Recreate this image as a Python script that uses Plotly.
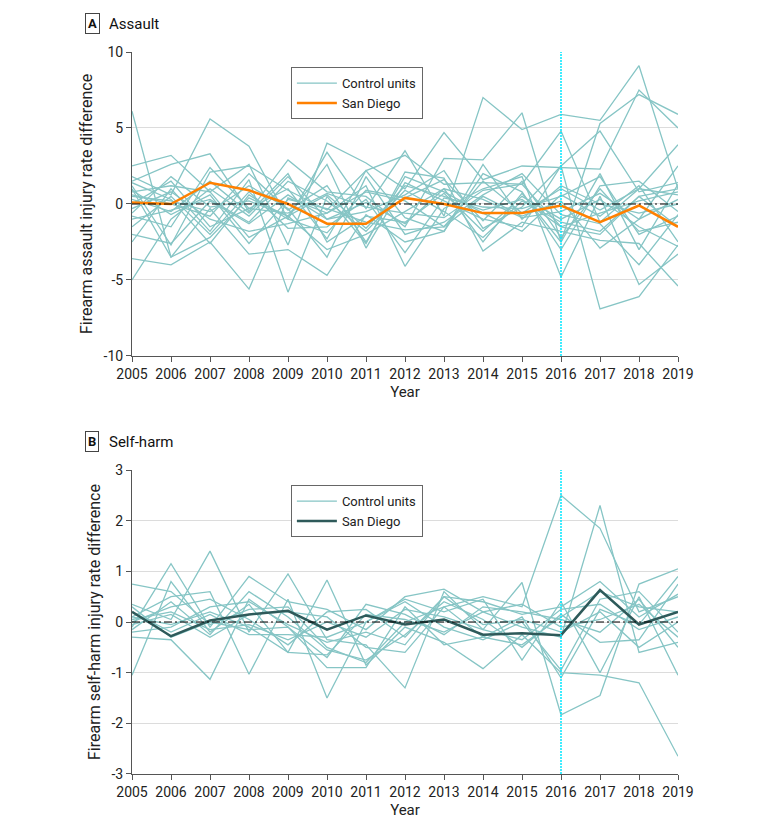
import plotly.graph_objects as go

years = list(range(2005, 2020))

# Panel A: assault
sd_assault = [0.1, 0.0, 1.4, 0.9, 0.0, -1.3, -1.3, 0.4, 0.0, -0.6, -0.6, -0.1, -1.2, -0.1, -1.5]
ctrl_assault = [
    [6.1, -3.5, -2.2, 0.4, -0.8, 0.6, -1.6, 1.2, 0.5, -0.4, 0.3, -1.5, -2.0, 0.5, 1.0],
    [2.5, 3.2, 0.8, 2.6, -2.7, 4.0, 2.7, 1.0, 4.7, 1.6, 2.5, 2.4, 2.3, 7.5, 5.0],
    [1.8, 0.6, 5.6, 3.8, -1.0, 3.4, -0.3, 3.5, -0.8, 7.0, 4.9, 5.9, 5.5, 9.1, 1.0],
    [1.5, 2.6, 3.3, -0.5, 2.9, 0.8, 0.5, -1.5, 3.0, 2.9, 6.0, -2.5, 5.3, 7.2, 5.9],
    [1.2, -2.7, 2.1, 2.5, 0.9, -0.4, 2.2, 3.2, 1.3, 1.4, 1.3, 4.8, -1.2, 1.0, 3.9],
    [-5.0, -1.0, 1.0, -0.8, 1.8, -1.0, -0.5, 0.6, 2.2, -1.6, -0.2, 2.5, -6.9, -6.1, -2.7],
    [-3.6, -4.0, -2.5, -5.6, 0.4, -0.6, 1.2, -4.1, -0.3, 1.0, 1.8, -4.8, 0.5, -5.3, -3.3],
    [-2.5, 1.0, -1.8, 1.6, -5.8, 0.5, -2.6, 2.1, 1.7, -3.1, -1.2, -1.8, -2.4, -2.6, -5.4],
    [1.0, -3.5, -0.3, -3.3, -3.0, -4.7, -0.7, -2.5, -1.8, 2.0, 0.8, -3.0, 1.2, 1.5, -0.5],
    [0.8, 1.2, 0.8, -2.2, -0.8, 2.6, -2.9, 1.4, 0.2, -1.0, -1.5, 2.5, 4.8, 0.8, 1.4],
    [0.5, 0.2, -0.5, 1.2, -0.3, -3.5, 1.8, -2.0, -1.2, 0.6, 2.0, -0.7, -1.3, -4.0, -0.7],
    [0.3, -0.5, 1.5, -0.6, 2.0, -2.5, -0.8, -1.2, 0.7, -1.8, 0.5, -1.0, 0.3, -1.5, -2.8],
    [-0.3, 0.8, -1.0, -1.8, -1.3, -0.6, 0.8, 0.2, -1.5, 1.5, -0.6, 1.0, -0.4, 1.0, 0.6],
    [-0.6, 1.8, -0.2, 0.2, -0.8, -3.0, -2.0, -0.5, 1.0, 0.3, -0.9, -0.5, 0.7, -1.0, 0.3],
    [-1.0, -0.4, 0.3, -1.2, 1.5, 0.2, -1.8, 0.9, -0.5, -2.2, 0.2, -1.2, -1.8, 0.5, -1.5],
    [-1.5, 0.5, -2.0, 0.8, -1.6, -1.5, 0.3, -3.2, 0.4, -0.2, -0.3, 0.5, 1.8, -2.0, -0.8],
    [0.0, 1.5, -1.5, -0.3, -0.6, 0.7, -0.2, -0.6, -0.9, 0.9, 1.3, -1.5, -0.6, 0.2, 0.8],
    [0.9, -0.7, 0.6, -2.6, 0.3, -0.3, -1.2, -1.7, -1.5, 0.5, -0.8, 0.2, -2.9, -1.0, 2.5],
    [1.4, 0.3, -2.6, 0.6, -1.0, -1.9, 0.9, 0.4, 1.6, -1.1, 1.5, -2.2, 1.0, -1.8, -1.2],
    [-0.8, -1.5, 2.4, -0.3, 1.0, -2.3, 2.2, -0.9, -1.8, 2.6, -1.0, 1.2, 0.0, -0.6, 0.0],
    [0.6, 0.0, -0.8, 2.0, -0.4, 1.2, -2.5, 1.8, 0.8, -0.6, -1.8, 0.6, -0.8, 1.2, -2.5],
    [-2.0, -2.6, 0.2, -1.3, 0.6, -1.0, 0.1, -1.3, 1.0, -2.5, 0.7, -2.5, 2.0, -3.0, 1.3],
]

# Panel B: self-harm
sd_selfharm = [0.2, -0.28, 0.03, 0.15, 0.22, -0.15, 0.13, -0.05, 0.05, -0.25, -0.22, -0.26, 0.63, -0.05, 0.2]
ctrl_selfharm = [
    [0.75, 0.6, -0.05, 0.25, 0.3, -0.5, -0.8, 0.0, 0.3, 0.5, 0.3, 2.5, 1.85, 0.2, 0.5],
    [-0.1, 1.15, -0.1, 0.9, 0.4, 0.25, -0.15, 0.5, 0.65, 0.2, -0.1, -0.3, 2.3, -0.6, -0.4],
    [0.35, 0.05, 1.4, -0.2, 0.95, -0.35, -0.45, -1.3, 0.6, -0.15, 0.78, -1.83, -1.45, 0.75, 1.05],
    [-1.05, 0.8, -0.2, 0.35, -0.6, 0.83, -0.85, -0.1, -0.4, -0.92, -0.25, -1.0, -1.05, -1.2, -2.65],
    [0.1, 0.5, 0.6, -1.03, 0.45, -1.5, 0.0, 0.45, 0.2, 0.45, -0.75, 0.4, -1.0, 0.5, -1.05],
    [-0.3, -0.35, -1.13, 0.45, -0.1, -0.9, -0.9, 0.3, -0.45, -0.3, 0.1, -1.1, 0.25, -0.05, 0.9],
    [0.0, 0.3, 0.45, 0.05, -0.45, 0.2, 0.25, -0.3, 0.5, 0.4, 0.15, 0.3, 0.8, 0.1, 0.55],
    [0.2, -0.2, 0.15, -0.25, -0.25, -0.3, 0.0, 0.4, -0.1, -0.35, 0.0, -0.95, 0.45, 0.6, -0.2],
    [-0.15, 0.4, -0.25, 0.6, 0.1, -0.55, -0.75, -0.25, 0.4, 0.05, -0.5, 0.15, -0.4, -0.35, 0.75],
    [0.1, -0.05, 0.2, -0.1, -0.6, -0.65, 0.15, 0.05, -0.2, 0.2, 0.35, -0.1, 0.05, 0.35, -0.3],
    [-0.05, 0.15, -0.3, 0.15, 0.2, 0.1, -0.5, -0.6, 0.3, -0.3, -0.45, 0.1, 0.6, 0.3, 0.2],
    [0.3, -0.3, 0.0, -0.15, -0.1, -0.7, 0.35, 0.15, -0.25, 0.3, 0.2, 0.05, -0.2, 0.45, -0.5],
    [0.05, 0.2, -0.15, -0.05, -0.35, 0.0, -0.3, 0.25, 0.1, -0.15, -0.35, 0.25, 0.35, -0.15, 0.1],
    [-0.2, -0.1, 0.3, 0.4, -0.05, -0.4, -0.2, -0.45, 0.5, -0.05, 0.05, -0.2, 0.2, -0.5, 0.0],
]

yticks_a = [-10, -5, 0, 5, 10]
yticks_b = [-3, -2, -1, 0, 1, 2, 3]
intervention_year = 2016

CTRL_COLOR = "#86c5c5"
SD_A_COLOR = "#ff8000"
SD_B_COLOR = "#2e5a5a"
FONT = "Roboto, Liberation Sans, sans-serif"

ML, MR, MT, MB = 124, 110, 44, 63
W, H = 780, 829
PW, PH = W - ML - MR, H - MT - MB

fig = go.Figure()

for i, s in enumerate(ctrl_assault):
    fig.add_trace(go.Scatter(x=years, y=s, mode="lines", xaxis="x", yaxis="y",
                             line=dict(color=CTRL_COLOR, width=1.3),
                             name="Control units", legend="legend",
                             showlegend=(i == 0)))
fig.add_trace(go.Scatter(x=years, y=sd_assault, mode="lines", xaxis="x", yaxis="y",
                         line=dict(color=SD_A_COLOR, width=2.5),
                         name="San Diego", legend="legend"))

for i, s in enumerate(ctrl_selfharm):
    fig.add_trace(go.Scatter(x=years, y=s, mode="lines", xaxis="x2", yaxis="y2",
                             line=dict(color=CTRL_COLOR, width=1.3),
                             name="Control units", legend="legend2",
                             showlegend=(i == 0)))
fig.add_trace(go.Scatter(x=years, y=sd_selfharm, mode="lines", xaxis="x2", yaxis="y2",
                         line=dict(color=SD_B_COLOR, width=2.5),
                         name="San Diego", legend="legend2"))

axis_common = dict(showline=True, linecolor="#555555", linewidth=1, ticks="outside",
                   ticklen=5, tickcolor="#555555", tickfont=dict(size=14, color="#222"),
                   zeroline=False)

fig.update_layout(
    width=W, height=H,
    margin=dict(l=ML, r=MR, t=MT, b=MB),
    plot_bgcolor="white", paper_bgcolor="white",
    font=dict(family=FONT, size=13, color="#222"),
    xaxis=dict(domain=[0, 1], anchor="y", range=[2005, 2019], tickvals=years,
               showgrid=False, title=dict(text="Year", standoff=5, font=dict(size=15)),
               **axis_common),
    yaxis=dict(domain=[0.579, 1], anchor="x", range=[-10, 10], tickvals=yticks_a,
               ticktext=[str(v) for v in yticks_a], showgrid=True, gridcolor="#dcdcdc",
               title=dict(text="Firearm assault injury rate difference", standoff=6,
                          font=dict(size=16)),
               **axis_common),
    xaxis2=dict(domain=[0, 1], anchor="y2", range=[2005, 2019], tickvals=years,
                showgrid=False, title=dict(text="Year", standoff=5, font=dict(size=15)),
                **axis_common),
    yaxis2=dict(domain=[0, 0.421], anchor="x2", range=[-3, 3], tickvals=yticks_b,
                ticktext=[str(v) for v in yticks_b], showgrid=True, gridcolor="#dcdcdc",
                title=dict(text="Firearm self-harm injury rate difference", standoff=6,
                           font=dict(size=16)),
                **axis_common),
    legend=dict(x=0.291, y=0.979, xanchor="left", yanchor="top",
                bordercolor="#666666", borderwidth=1, bgcolor="white",
                font=dict(size=13), tracegroupgap=0, itemwidth=40),
    legend2=dict(x=0.291, y=0.400, xanchor="left", yanchor="top",
                 bordercolor="#666666", borderwidth=1, bgcolor="white",
                 font=dict(size=13), tracegroupgap=0, itemwidth=40),
    showlegend=True,
)

for xr, yr in (("x", "y"), ("x2", "y2")):
    fig.add_shape(type="line", xref=xr, yref=yr, x0=2005, x1=2019, y0=0, y1=0,
                  line=dict(color="black", width=1.2, dash="8px,3px,2px,3px"), layer="above")
    fig.add_shape(type="line", xref=xr, yref=f"{yr} domain", x0=intervention_year,
                  x1=intervention_year, y0=0, y1=1,
                  line=dict(color="#00e8ff", width=1.5, dash="2px,1px"), layer="above")

# panel labels (screen pixel positions converted to paper coords)
for label, title, ypix in (("A", "Assault", 16), ("B", "Self-harm", 434)):
    yp = (MT + PH - ypix) / PH
    fig.add_annotation(xref="paper", yref="paper", x=(84 - ML) / PW, y=yp,
                       text=f"<b>{label}</b>", showarrow=False, xanchor="center",
                       yanchor="middle", bordercolor="#444", borderwidth=1,
                       borderpad=2, font=dict(size=13, color="#111"))
    fig.add_annotation(xref="paper", yref="paper", x=(99 - ML) / PW, y=yp,
                       text=title, showarrow=False, xanchor="left", yanchor="middle",
                       font=dict(size=15, color="#111"))

fig.write_html("out.html")
